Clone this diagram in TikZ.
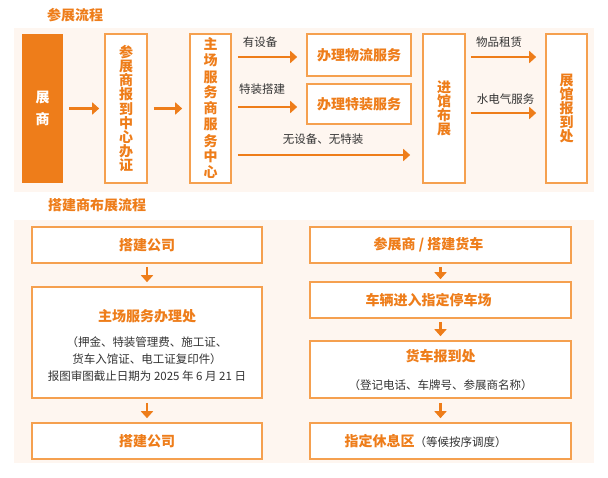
\documentclass[tikz,border=0pt]{standalone}
\usepackage{fontspec}
\setmainfont{Noto Sans CJK SC}
\usetikzlibrary{arrows.meta, positioning}

\definecolor{zsorange}{HTML}{EE7D1A}
\definecolor{zsline}{HTML}{F5A04F}
\definecolor{zspanel}{HTML}{FEF6F0}
\definecolor{zsgray}{HTML}{333333}

\tikzset{
	panel/.style={fill=zspanel, draw=none},
	heading/.style={text=zsorange, font=\bfseries\fontsize{14}{16}\selectfont},
	darkbox/.style={fill=zsorange, draw=none, text=white, align=center, inner sep=0pt, font=\bfseries\fontsize{14}{22}\selectfont},
	vbox/.style={draw=zsline, line width=1.6pt, fill=white, text=zsorange, align=center, inner sep=0pt, font=\bfseries\fontsize{14}{14.2}\selectfont},
	hbox/.style={draw=zsline, line width=1.6pt, fill=white, inner sep=0pt},
	boxtext/.style={text=zsorange, inner sep=0pt, font=\bfseries\fontsize{14}{17}\selectfont},
	notetext/.style={text=zsgray, inner sep=0pt, align=center, font=\fontsize{11.5}{17}\selectfont},
	steplabel/.style={text=zsgray, inner sep=0pt, font=\fontsize{11.5}{13}\selectfont},
	flow/.style={-{Triangle[length=7pt,width=12pt]}, line width=2.2pt, draw=zsorange}
}

\begin{document}
\begin{tikzpicture}[x=1pt, y=-1pt]
		%page size
		\useasboundingbox (0,0) rectangle (608,478);
		
		%background panels
		\fill [panel] (14,28) rectangle (594,192);
		\fill [panel] (14,220) rectangle (594,463);
		
		%headings
		\node [heading] (title1) at (75,15) {参展流程};
		\node [heading] (title2) at (97,205) {搭建商布展流程};
		
		%exhibitor flow
		\node [darkbox, minimum width=41pt, minimum height=149pt] (zhanshang) at (42.5,108.5) {展\\商};
		\node [vbox, minimum width=42pt, minimum height=149pt] (banzheng) at (126,108.5) {参\\展\\商\\报\\到\\中\\心\\办\\证};
		\node [vbox, minimum width=41pt, minimum height=149pt, font=\bfseries\fontsize{14}{16}\selectfont] (fuwu) at (210.5,108.5) {主\\场\\服\\务\\商\\服\\务\\中\\心};
		\node [hbox, boxtext, minimum width=104pt, minimum height=42pt] (wuliu) at (359,55) {办理物流服务};
		\node [hbox, boxtext, minimum width=104pt, minimum height=40pt] (tezhuang) at (359,104) {办理特装服务};
		\node [vbox, minimum width=42pt, minimum height=149pt] (jinguan) at (444,108.5) {进\\馆\\布\\展};
		\node [vbox, minimum width=41pt, minimum height=149pt] (baodao) at (566.5,108.5) {展\\馆\\报\\到\\处};
		
		%lanes of the branching arrows
		\coordinate (lane1) at (0,57);
		\coordinate (lane2) at (0,107);
		\coordinate (lane3) at (0,155);
		\coordinate (lane4) at (0,113);
		
		\draw [flow, shorten <=6pt, shorten >=5pt] (zhanshang) -- (banzheng);
		\draw [flow, shorten <=6pt, shorten >=7pt] (banzheng) -- (fuwu);
		\draw [flow, shorten <=6pt, shorten >=9pt] (fuwu.east |- lane1) -- (wuliu.west |- lane1);
		\draw [flow, shorten <=6pt, shorten >=9pt] (fuwu.east |- lane2) -- (tezhuang.west |- lane2);
		\draw [flow, shorten <=6pt, shorten >=12pt] (fuwu.east |- lane3) -- (jinguan.west |- lane3);
		\draw [flow, shorten <=5pt, shorten >=9pt] (jinguan.east |- lane1) -- (baodao.west |- lane1);
		\draw [flow, shorten <=5pt, shorten >=9pt] (jinguan.east |- lane4) -- (baodao.west |- lane4);
		
		\node [steplabel] (youshebei) at (260,42) {有设备};
		\node [steplabel] (tezhuanglabel) at (262,89) {特装搭建};
		\node [steplabel] (wushebei) at (323,139) {无设备、无特装};
		\node [steplabel] (zulin) at (499,42) {物品租赁};
		\node [steplabel] (shuidian) at (505.5,99) {水电气服务};
		
		%builder flow, left column
		\node [hbox, boxtext, minimum width=230pt, minimum height=36pt] (gongsi1) at (147,245) {搭建公司};
		\node [hbox, minimum width=230pt, minimum height=111pt] (banlichu) at (147,342.5) {};
		\node [boxtext] (banlititle) at ([yshift=-30pt]banlichu.north) {主场服务办理处};
		\node [notetext, below=13pt of banlititle] (banlinote) {（押金、特装管理费、施工证、\\货车入馆证、电工证复印件）\\报图审图截止日期为 2025 年 6 月 21 日};
		\node [hbox, boxtext, minimum width=230pt, minimum height=36pt] (gongsi2) at (147,441) {搭建公司};
		
		\draw [flow, shorten <=3pt, shorten >=4pt] (gongsi1) -- (banlichu);
		\draw [flow, shorten <=4pt, shorten >=4pt] (banlichu) -- (gongsi2);
		
		%builder flow, right column
		\node [hbox, minimum width=261pt, minimum height=36pt] (huoche) at (440.5,245) {};
		\node [boxtext] (huochetext) at ([xshift=-12pt]huoche.center) {参展商 / 搭建货车};
		\node [hbox, minimum width=261pt, minimum height=36pt] (tingche) at (440.5,300) {};
		\node [boxtext] (tingchetext) at ([xshift=-12pt]tingche.center) {车辆进入指定停车场};
		\node [hbox, minimum width=261pt, minimum height=57pt] (huochebaodao) at (440.5,369.5) {};
		\node [boxtext] (baodaotitle) at ([yshift=-16pt]huochebaodao.north) {货车报到处};
		\node [notetext] (baodaonote) at ([yshift=14pt]huochebaodao.south) {（登记电话、车牌号、参展商名称）};
		\node [hbox, minimum width=261pt, minimum height=36pt] (xiuxi) at (440.5,441) {};
		\node [boxtext] (xiuxitext) at ([xshift=-15pt]xiuxi.center) {指定休息区{\mdseries\color{zsgray}\fontsize{11.5}{13}\selectfont（等候按序调度）}};
		
		\draw [flow, shorten <=3pt, shorten >=2pt] (huoche) -- (tingche);
		\draw [flow, shorten <=3pt, shorten >=4pt] (tingche) -- (huochebaodao);
		\draw [flow, shorten <=4pt, shorten >=4pt] (huochebaodao) -- (xiuxi);
	\end{tikzpicture}
\end{document}
